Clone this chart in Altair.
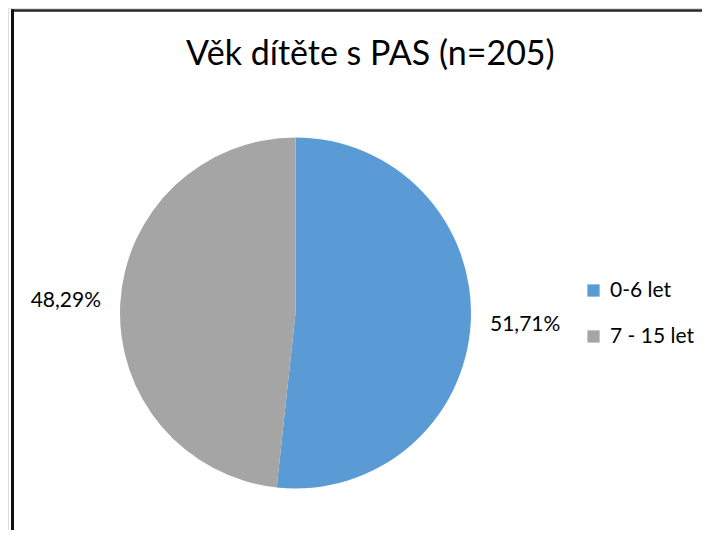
import altair as alt
import pandas as pd

categories = ["0-6 let", "7 - 15 let"]
values = [51.71, 48.29]
labels = ["51,71%", "48,29%"]
colors = ["#5B9BD5", "#A5A5A5"]

df = pd.DataFrame({"cat": categories, "val": values, "lab": labels, "ord": [0, 1]})

FONT = "Lato"
CX, CY = 287.5, 305
R = 175.5
W, H = 694, 522

base = alt.Chart(df).encode(
    theta=alt.Theta("val:Q", stack=True),
    order=alt.Order("ord:Q"),
)

pie = base.mark_arc(outerRadius=R).encode(
    x=alt.value(CX), y=alt.value(CY),
    color=alt.Color(
        "cat:N",
        scale=alt.Scale(domain=categories, range=colors),
        legend=alt.Legend(
            title=None, orient="none", legendX=575, legendY=272,
            symbolType="square", symbolSize=150, symbolStrokeWidth=0,
            labelFont=FONT, labelFontSize=21, labelColor="#000000",
            rowPadding=24, labelOffset=6, symbolOpacity=1,
        ),
    ),
)

txt = base.mark_text(font=FONT, fontSize=21, color="#000000", align="center", baseline="middle").encode(
    x=alt.value(CX), y=alt.value(CY),
    radius=alt.value(230),
    text="lab:N",
)

frame_top = alt.Chart(df).mark_rect(color="#262626", strokeWidth=0).encode(
    x=alt.value(3), x2=alt.value(W), y=alt.value(1.5), y2=alt.value(3.5)
)
frame_left = alt.Chart(df).mark_rect(color="#111111", strokeWidth=0).encode(
    x=alt.value(3), x2=alt.value(6), y=alt.value(1.5), y2=alt.value(H)
)

chart = alt.layer(pie, txt, frame_top, frame_left).properties(
    width=W, height=H,
    title=alt.TitleParams(
        "Věk dítěte s PAS (n=205)", font=FONT, fontSize=34, fontWeight="normal",
        color="#000000", anchor="start", dx=178, dy=14, offset=-50,
    ),
    padding=0,
    autosize=alt.AutoSizeParams(type="none"),
).configure_view(stroke=None).configure(background="white")

chart.save("out.html", embed_options={"renderer": "svg", "actions": False})
